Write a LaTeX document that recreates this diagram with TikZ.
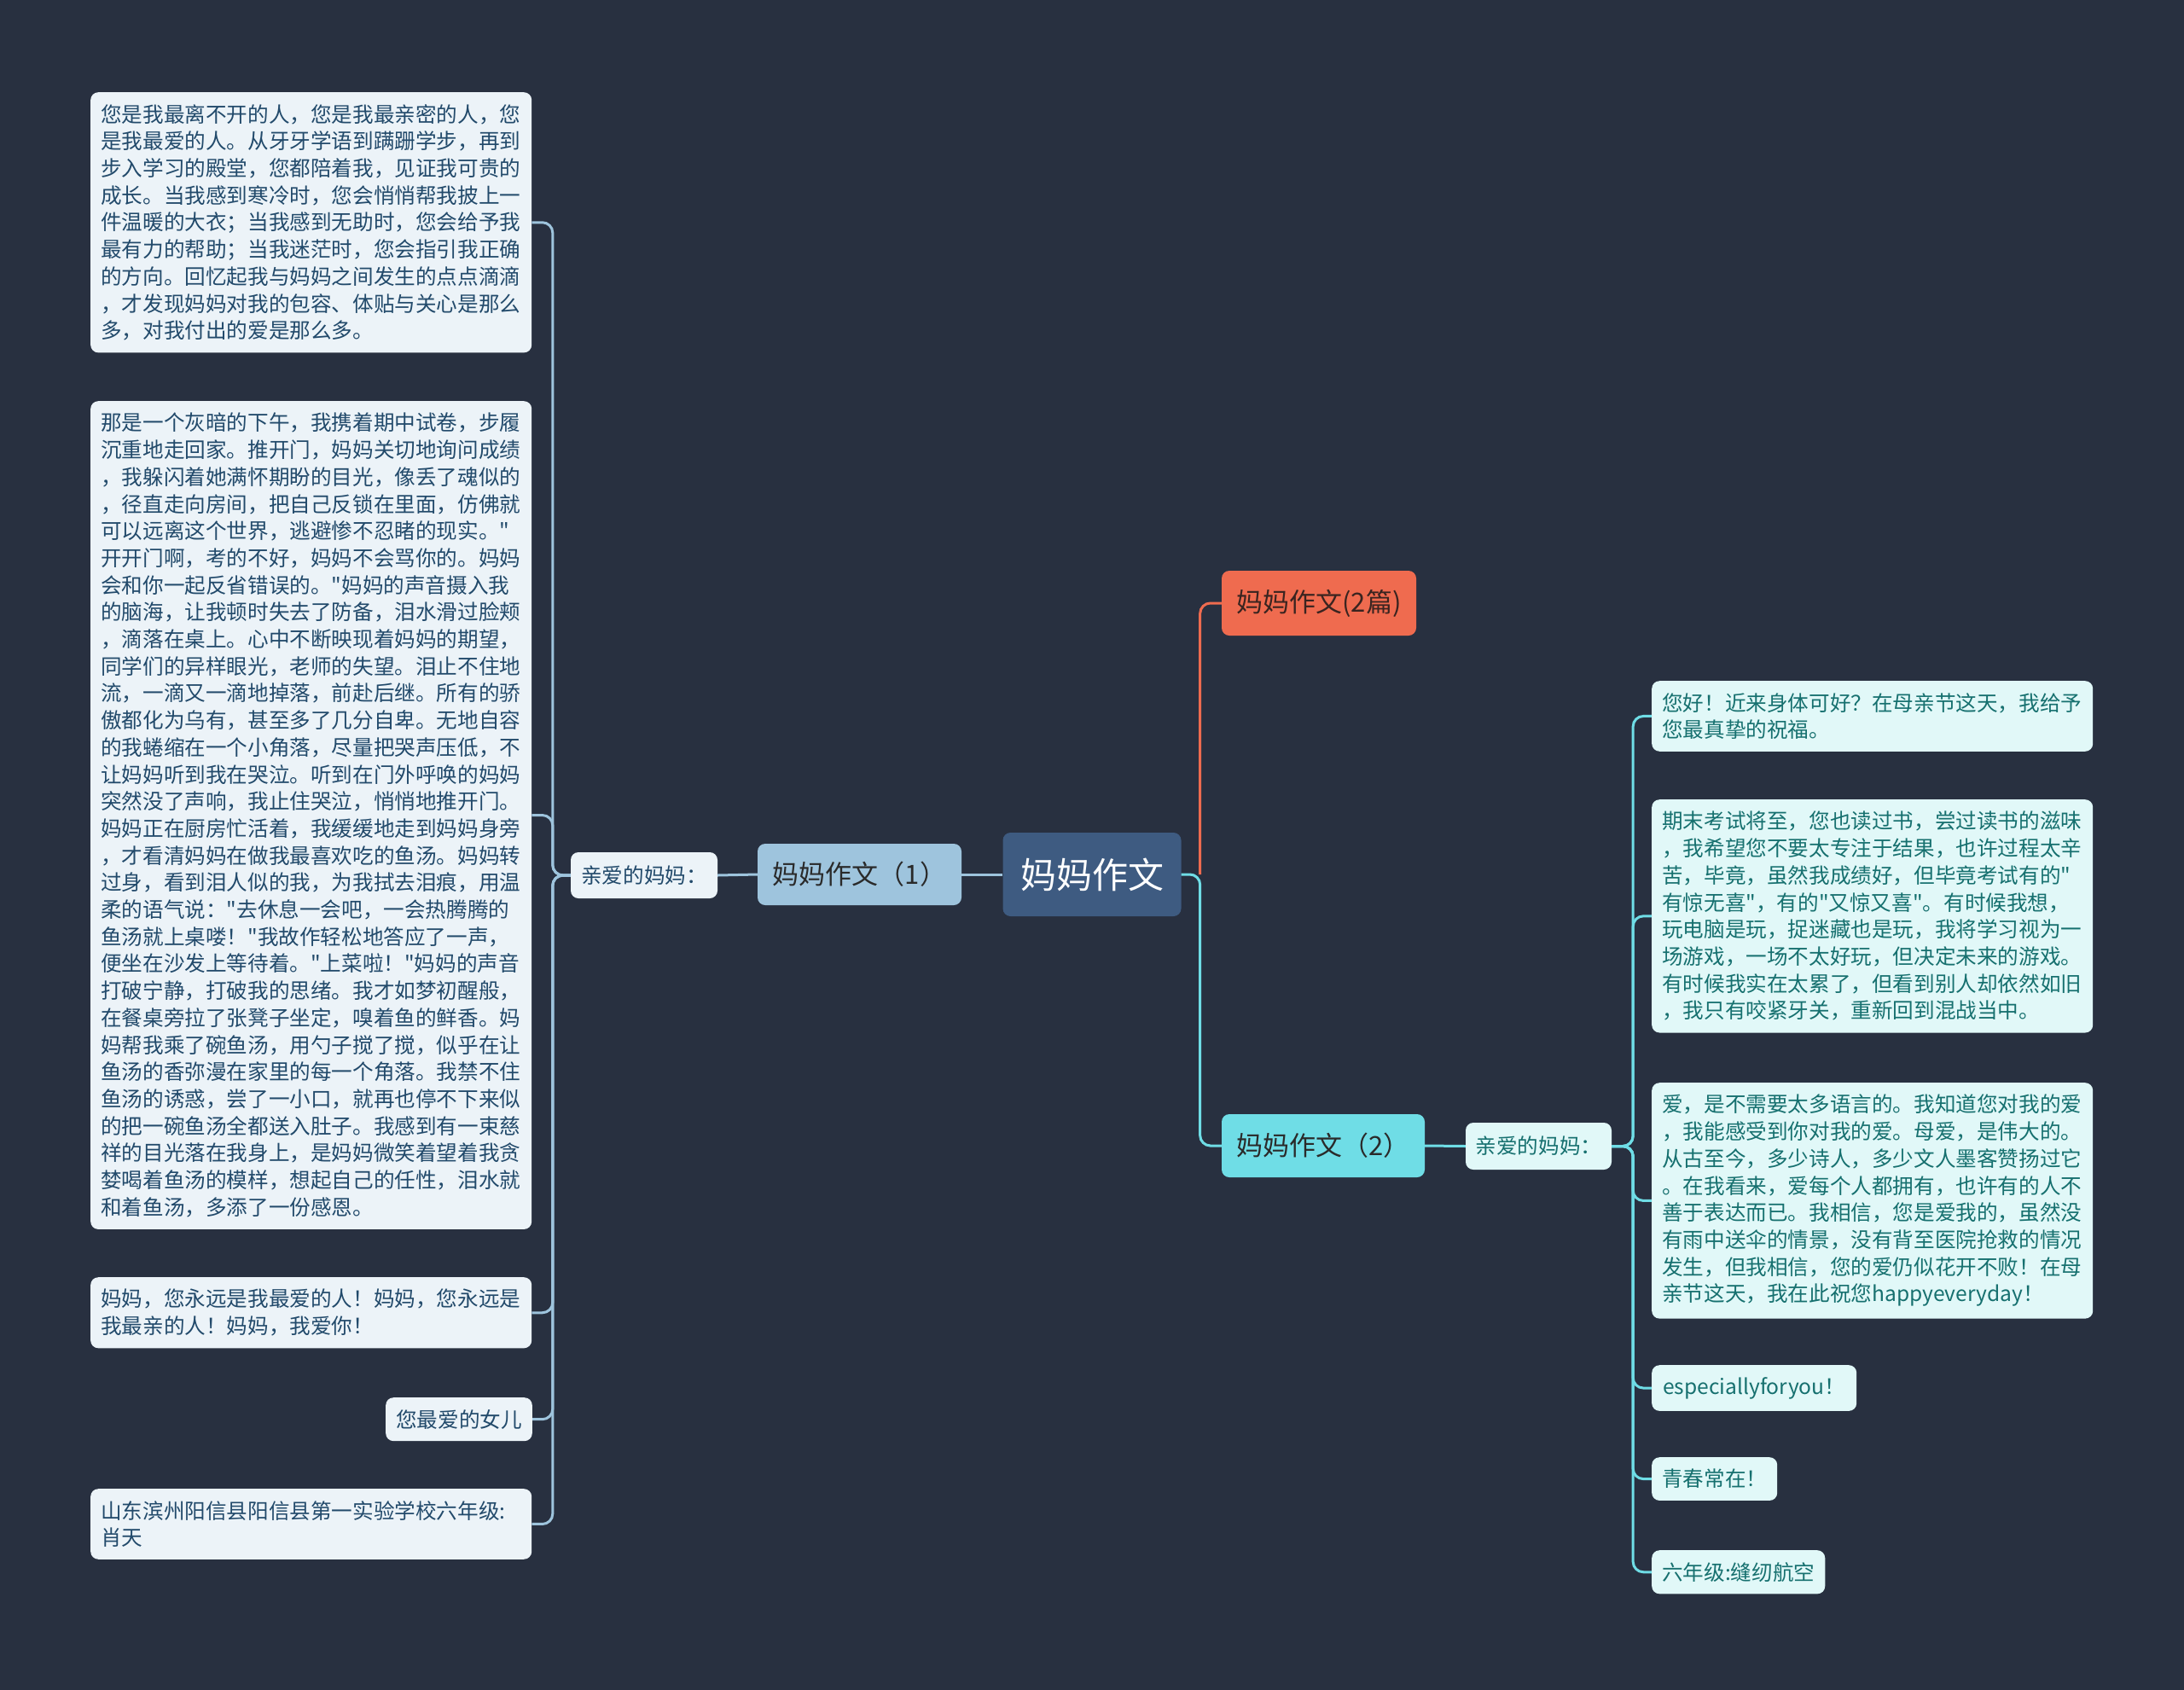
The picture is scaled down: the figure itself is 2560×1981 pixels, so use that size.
\documentclass[tikz,border=0pt]{standalone}
\usepackage{fontspec}
\newfontfamily\cjk{Noto Sans CJK SC}
\usetikzlibrary{calc}
\definecolor{bg}{HTML}{283040}
\definecolor{rootfill}{HTML}{3E5B81}
\definecolor{bonefill}{HTML}{9EC4DD}
\definecolor{btwofill}{HTML}{6FDDE6}
\definecolor{bpfill}{HTML}{EF6B4F}
\definecolor{bptext}{HTML}{3A2420}
\definecolor{leafLfill}{HTML}{ECF3F8}
\definecolor{leafLtext}{HTML}{224A6B}
\definecolor{leafRfill}{HTML}{E1F8F8}
\definecolor{leafRtext}{HTML}{16706F}
\definecolor{darktext}{HTML}{2A2A2A}
\begin{document}
\begin{tikzpicture}[x=1pt,y=-1pt,
  leafL/.style={fill=leafLfill, text=leafLtext, rounded corners=9pt, align=left,
    inner xsep=12pt, inner ysep=14pt, font=\cjk\fontsize{24.6}{31.7}\selectfont},
  leafR/.style={leafL, fill=leafRfill, text=leafRtext},
  wide/.style={text width=493pt},
  branch/.style={rounded corners=9pt, text=darktext, inner sep=0pt,
    font=\cjk\fontsize{31}{36}\selectfont},
  connL/.style={draw=bonefill, line width=3pt, rounded corners=12pt},
  connR/.style={draw=btwofill, line width=3pt, rounded corners=12pt},
  connO/.style={draw=bpfill, line width=3pt, rounded corners=12pt}]
\fill[bg] (0,0) rectangle (2560,1981);
\useasboundingbox (0,0) rectangle (2560,1981);

% central
\node[fill=rootfill, rounded corners=9pt, text=white, minimum width=209pt, minimum height=98pt, inner sep=0pt,
  font=\cjk\fontsize{42}{48}\selectfont] (root) at (1280,1025) {妈妈作文};
\node[branch, fill=bonefill, minimum width=239pt, minimum height=72pt] (b1) at (1007.5,1025) {妈妈作文（1）};
\node[branch, fill=bpfill, text=bptext, minimum width=228pt, minimum height=76pt] (bp) at (1546,707) {妈妈作文(2篇)};
\node[branch, fill=btwofill, minimum width=238pt, minimum height=74pt] (b2) at (1551,1343) {妈妈作文（2）};

\node[leafL, minimum width=172pt, minimum height=54pt, inner sep=0pt] (lp) at (755,1026) {亲爱的妈妈：};
\node[leafR, minimum width=171pt, minimum height=55pt, inner sep=0pt] (rp) at (1803.5,1343.5) {亲爱的妈妈：};

% left leaves
\node[leafL, wide, anchor=north west] (l1) at (106,108) {您是我最离不开的人，您是我最亲密的人，您\\
是我最爱的人。从牙牙学语到蹒跚学步，再到\\
步入学习的殿堂，您都陪着我，见证我可贵的\\
成长。当我感到寒冷时，您会悄悄帮我披上一\\
件温暖的大衣；当我感到无助时，您会给予我\\
最有力的帮助；当我迷茫时，您会指引我正确\\
的方向。回忆起我与妈妈之间发生的点点滴滴\\
，才发现妈妈对我的包容、体贴与关心是那么\\
多，对我付出的爱是那么多。};

\node[leafL, wide, anchor=north west] (l2) at (106,470) {那是一个灰暗的下午，我携着期中试卷，步履\\
沉重地走回家。推开门，妈妈关切地询问成绩\\
，我躲闪着她满怀期盼的目光，像丢了魂似的\\
，径直走向房间，把自己反锁在里面，仿佛就\\
可以远离这个世界，逃避惨不忍睹的现实。"\\
开开门啊，考的不好，妈妈不会骂你的。妈妈\\
会和你一起反省错误的。"妈妈的声音摄入我\\
的脑海，让我顿时失去了防备，泪水滑过脸颊\\
，滴落在桌上。心中不断映现着妈妈的期望，\\
同学们的异样眼光，老师的失望。泪止不住地\\
流，一滴又一滴地掉落，前赴后继。所有的骄\\
傲都化为乌有，甚至多了几分自卑。无地自容\\
的我蜷缩在一个小角落，尽量把哭声压低，不\\
让妈妈听到我在哭泣。听到在门外呼唤的妈妈\\
突然没了声响，我止住哭泣，悄悄地推开门。\\
妈妈正在厨房忙活着，我缓缓地走到妈妈身旁\\
，才看清妈妈在做我最喜欢吃的鱼汤。妈妈转\\
过身，看到泪人似的我，为我拭去泪痕，用温\\
柔的语气说："去休息一会吧，一会热腾腾的\\
鱼汤就上桌喽！"我故作轻松地答应了一声，\\
便坐在沙发上等待着。"上菜啦！"妈妈的声音\\
打破宁静，打破我的思绪。我才如梦初醒般，\\
在餐桌旁拉了张凳子坐定，嗅着鱼的鲜香。妈\\
妈帮我乘了碗鱼汤，用勺子搅了搅，似乎在让\\
鱼汤的香弥漫在家里的每一个角落。我禁不住\\
鱼汤的诱惑，尝了一小口，就再也停不下来似\\
的把一碗鱼汤全都送入肚子。我感到有一束慈\\
祥的目光落在我身上，是妈妈微笑着望着我贪\\
婪喝着鱼汤的模样，想起自己的任性，泪水就\\
和着鱼汤，多添了一份感恩。};

\node[leafL, wide, anchor=north west] (l3) at (106,1497) {妈妈，您永远是我最爱的人！妈妈，您永远是\\
我最亲的人！妈妈，我爱你！};
\node[leafL, anchor=north east] (l4) at (624,1638) {您最爱的女儿};
\node[leafL, wide, anchor=north west] (l5) at (106,1745) {山东滨州阳信县阳信县第一实验学校六年级:\\
肖天};

% right leaves
\node[leafR, wide, anchor=north west] (r1) at (1936,798) {您好！近来身体可好？在母亲节这天，我给予\\
您最真挚的祝福。};
\node[leafR, wide, anchor=north west] (r2) at (1936,937) {期末考试将至，您也读过书，尝过读书的滋味\\
，我希望您不要太专注于结果，也许过程太辛\\
苦，毕竟，虽然我成绩好，但毕竟考试有的"\\
有惊无喜"，有的"又惊又喜"。有时候我想，\\
玩电脑是玩，捉迷藏也是玩，我将学习视为一\\
场游戏，一场不太好玩，但决定未来的游戏。\\
有时候我实在太累了，但看到别人却依然如旧\\
，我只有咬紧牙关，重新回到混战当中。};
\node[leafR, wide, anchor=north west] (r3) at (1936,1269) {爱，是不需要太多语言的。我知道您对我的爱\\
，我能感受到你对我的爱。母爱，是伟大的。\\
从古至今，多少诗人，多少文人墨客赞扬过它\\
。在我看来，爱每个人都拥有，也许有的人不\\
善于表达而已。我相信，您是爱我的，虽然没\\
有雨中送伞的情景，没有背至医院抢救的情况\\
发生，但我相信，您的爱仍似花开不败！在母\\
亲节这天，我在此祝您happyeveryday！};
\node[leafR, anchor=north west, minimum width=240pt] (r4) at (1936,1600) {especiallyforyou！};
\node[leafR, anchor=north west, minimum width=147pt] (r5) at (1936,1708) {青春常在！};
\node[leafR, anchor=north west, minimum width=201pt] (r6) at (1936,1817) {六年级:缝纫航空};

% connectors
\coordinate (j) at ($(root.east)+(22,0)$);
\draw[connR] (root.east) -- (j) |- (b2.west);
\draw[connO] (j) |- (bp.west);
\draw[connL] (root.west) -- (b1.east);
\draw[connL] (b1.west) -- (lp.east);
\foreach \n in {l1,l2,l3,l4,l5}{
  \draw[connL] (lp.west) -- ++(-21,0) |- (\n.east);
}
\draw[connR] (b2.east) -- (rp.west);
\foreach \n in {r1,r2,r3,r4,r5,r6}{
  \draw[connR] (rp.east) -- ++(25,0) |- (\n.west);
}
\end{tikzpicture}
\end{document}
